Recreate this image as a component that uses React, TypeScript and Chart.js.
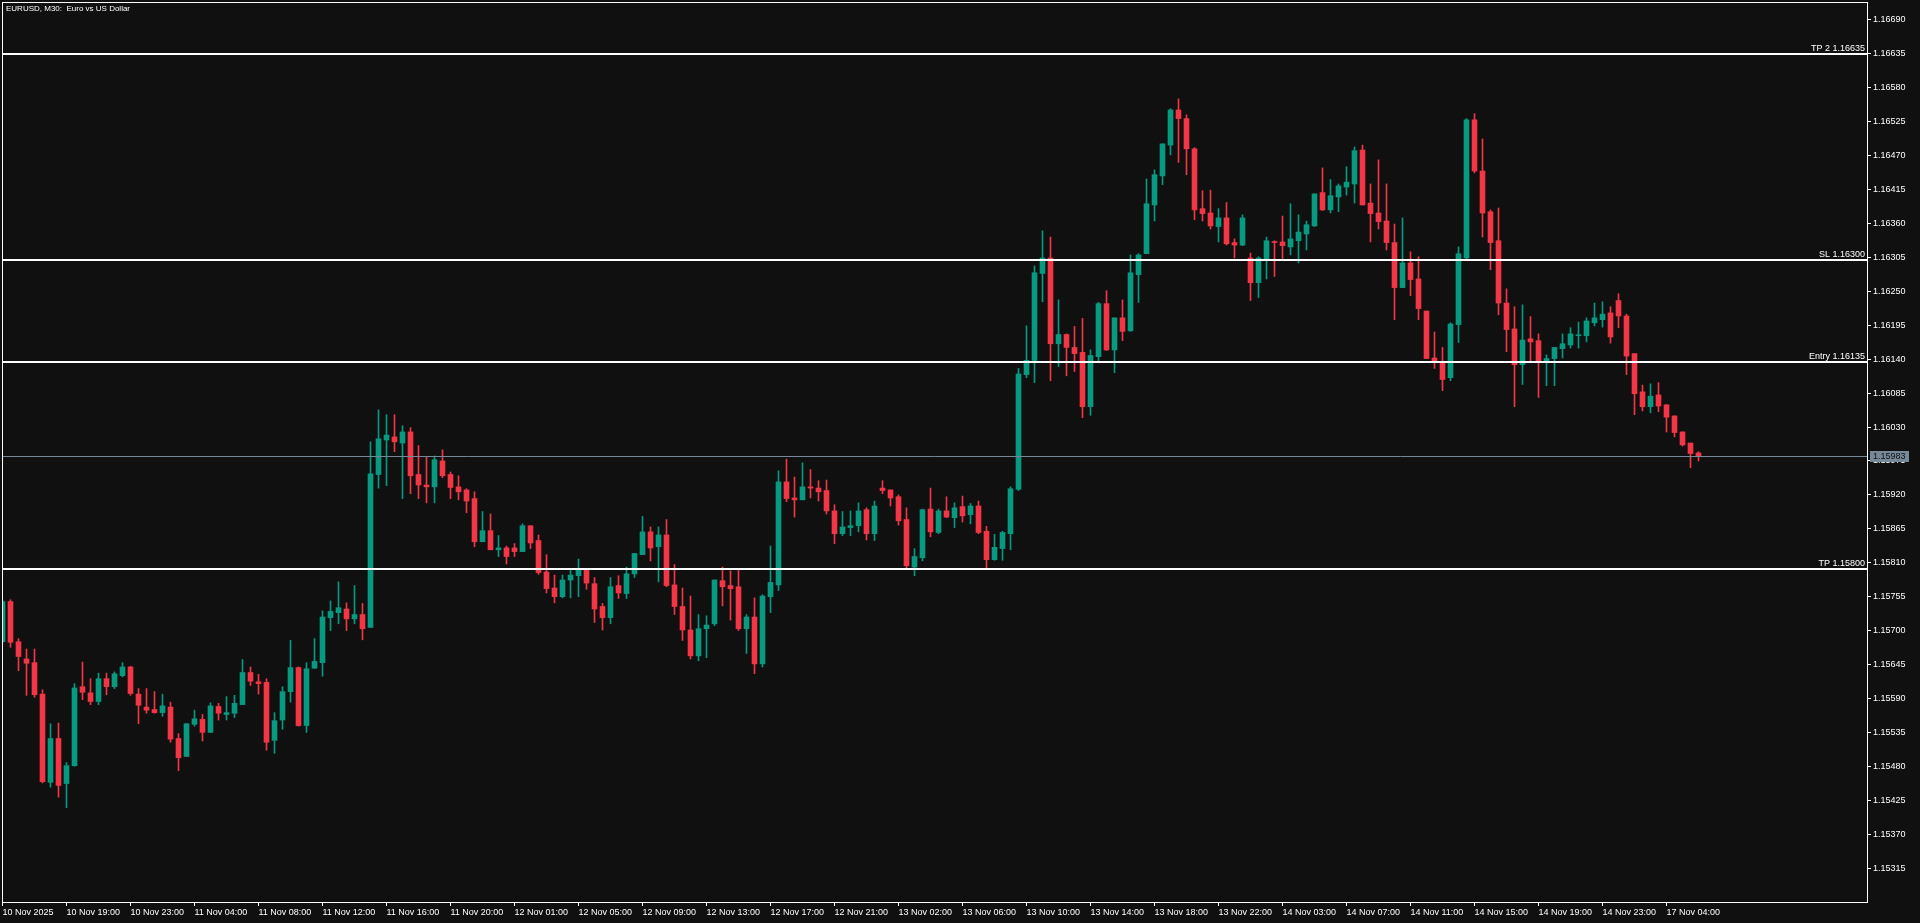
import React, { useEffect, useRef } from "react";
import { Chart, registerables } from "chart.js";

Chart.register(...registerables);

const chartTitle = "EURUSD, M30:  Euro vs US Dollar";

const opens = [
  1.15682,1.15747,1.15682,1.15654,1.15648,1.15597,1.15454,1.15525,1.15452,1.15481,
  1.15609,1.15599,1.15585,1.15622,1.15609,1.15627,1.15641,1.15597,1.15576,1.15572,
  1.15567,1.15576,1.15525,1.15496,1.15548,1.15556,1.15535,1.15577,1.15564,1.15566,
  1.15580,1.15632,1.15617,1.15616,1.15522,1.15555,1.15601,1.15640,1.15546,1.15639,
  1.15648,1.15721,1.15729,1.15735,1.15719,1.15726,1.15705,1.15953,1.16009,1.16014,
  1.16004,1.16022,1.15953,1.15936,1.15933,1.15975,1.15953,1.15933,1.15928,1.15914,
  1.15844,1.15862,1.15831,1.15834,1.15834,1.15828,1.15870,1.15846,1.15795,1.15769,
  1.15755,1.15782,1.15789,1.15799,1.15776,1.15739,1.15721,1.15773,1.15760,1.15792,
  1.15823,1.15860,1.15836,1.15855,1.15774,1.15739,1.15701,1.15659,1.15703,1.15711,
  1.15781,1.15773,1.15771,1.15703,1.15722,1.15646,1.15755,1.15774,1.15941,1.15915,
  1.15912,1.15933,1.15931,1.15927,1.15894,1.15857,1.15867,1.15870,1.15896,1.15857,
  1.15931,1.15928,1.15917,1.15880,1.15803,1.15818,1.15897,1.15859,1.15894,1.15883,
  1.15901,1.15888,1.15902,1.15861,1.15815,1.15833,1.15857,1.15929,1.16115,1.16138,
  1.16279,1.16304,1.16165,1.16180,1.16159,1.16151,1.16063,1.16144,1.16230,1.16155,
  1.16207,1.16186,1.16277,1.16311,1.16390,1.16437,1.16487,1.16544,1.16530,1.16481,
  1.16384,1.16377,1.16355,1.16369,1.16329,1.16325,1.16304,1.16264,1.16300,1.16330,
  1.16330,1.16322,1.16332,1.16343,1.16356,1.16410,1.16382,1.16403,1.16419,1.16424,
  1.16479,1.16393,1.16377,1.16364,1.16329,1.16256,1.16296,1.16270,1.16218,1.16142,
  1.16136,1.16110,1.16196,1.16304,1.16528,1.16445,1.16379,1.16332,1.16231,1.16189,
  1.16131,1.16173,1.16170,1.16136,1.16141,1.16157,1.16163,1.16178,1.16178,1.16199,
  1.16204,1.16215,1.16235,1.16210,1.16149,1.16087,1.16063,1.16082,1.16066,1.16048,
  1.16022,1.16004,1.15988,
];

const highs = [
  1.15750,1.15750,1.15687,1.15670,1.15670,1.15604,1.15549,1.15550,1.15486,1.15614,
  1.15649,1.15622,1.15631,1.15631,1.15633,1.15648,1.15642,1.15606,1.15606,1.15601,
  1.15597,1.15584,1.15533,1.15549,1.15571,1.15564,1.15583,1.15582,1.15593,1.15595,
  1.15653,1.15641,1.15629,1.15622,1.15567,1.15609,1.15684,1.15641,1.15648,1.15687,
  1.15732,1.15748,1.15779,1.15745,1.15773,1.15744,1.16006,1.16058,1.16050,1.16050,
  1.16032,1.16029,1.16000,1.15982,1.15983,1.15993,1.15957,1.15951,1.15930,1.15925,
  1.15893,1.15889,1.15854,1.15837,1.15841,1.15873,1.15870,1.15855,1.15823,1.15790,
  1.15790,1.15798,1.15816,1.15800,1.15786,1.15744,1.15786,1.15789,1.15803,1.15825,
  1.15885,1.15868,1.15868,1.15880,1.15807,1.15769,1.15756,1.15726,1.15724,1.15782,
  1.15803,1.15797,1.15799,1.15726,1.15753,1.15758,1.15837,1.15959,1.15978,1.15949,
  1.15972,1.15961,1.15943,1.15944,1.15904,1.15893,1.15894,1.15907,1.15899,1.15910,
  1.15943,1.15928,1.15920,1.15899,1.15833,1.15897,1.15931,1.15897,1.15917,1.15907,
  1.15918,1.15906,1.15910,1.15869,1.15856,1.15861,1.15933,1.16125,1.16194,1.16291,
  1.16348,1.16338,1.16236,1.16181,1.16193,1.16206,1.16155,1.16232,1.16251,1.16207,
  1.16236,1.16309,1.16311,1.16432,1.16447,1.16489,1.16546,1.16562,1.16536,1.16483,
  1.16413,1.16414,1.16384,1.16394,1.16335,1.16374,1.16312,1.16306,1.16338,1.16332,
  1.16372,1.16392,1.16374,1.16364,1.16408,1.16450,1.16431,1.16424,1.16452,1.16484,
  1.16487,1.16424,1.16463,1.16424,1.16359,1.16369,1.16314,1.16306,1.16218,1.16184,
  1.16159,1.16199,1.16322,1.16530,1.16538,1.16497,1.16382,1.16385,1.16254,1.16225,
  1.16228,1.16209,1.16181,1.16147,1.16159,1.16181,1.16191,1.16200,1.16207,1.16231,
  1.16233,1.16225,1.16246,1.16213,1.16149,1.16098,1.16100,1.16102,1.16066,1.16048,
  1.16022,1.16004,1.15990,
];

const lows = [
  1.15680,1.15673,1.15635,1.15595,1.15592,1.15453,1.15446,1.15430,1.15413,1.15480,
  1.15588,1.15580,1.15580,1.15596,1.15606,1.15625,1.15595,1.15549,1.15566,1.15566,
  1.15561,1.15519,1.15473,1.15496,1.15545,1.15521,1.15535,1.15555,1.15555,1.15559,
  1.15580,1.15611,1.15597,1.15506,1.15501,1.15540,1.15584,1.15545,1.15535,1.15639,
  1.15626,1.15700,1.15711,1.15700,1.15711,1.15685,1.15705,1.15931,1.15935,1.15990,
  1.15914,1.15922,1.15914,1.15907,1.15907,1.15948,1.15914,1.15912,1.15891,1.15836,
  1.15844,1.15831,1.15820,1.15808,1.15820,1.15828,1.15833,1.15791,1.15761,1.15745,
  1.15753,1.15753,1.15755,1.15767,1.15713,1.15701,1.15711,1.15752,1.15752,1.15786,
  1.15823,1.15813,1.15779,1.15771,1.15726,1.15684,1.15654,1.15651,1.15656,1.15708,
  1.15740,1.15717,1.15700,1.15663,1.15630,1.15641,1.15729,1.15765,1.15909,1.15884,
  1.15912,1.15915,1.15910,1.15889,1.15841,1.15854,1.15854,1.15860,1.15847,1.15846,
  1.15922,1.15902,1.15871,1.15802,1.15789,1.15813,1.15852,1.15857,1.15883,1.15867,
  1.15876,1.15873,1.15857,1.15802,1.15814,1.15814,1.15831,1.15927,1.16110,1.16102,
  1.16233,1.16105,1.16128,1.16113,1.16120,1.16045,1.16049,1.16136,1.16154,1.16118,
  1.16170,1.16185,1.16232,1.16311,1.16364,1.16423,1.16471,1.16459,1.16439,1.16366,
  1.16364,1.16351,1.16330,1.16325,1.16304,1.16324,1.16235,1.16240,1.16270,1.16274,
  1.16303,1.16309,1.16296,1.16317,1.16355,1.16381,1.16377,1.16379,1.16406,1.16393,
  1.16390,1.16330,1.16351,1.16317,1.16204,1.16256,1.16243,1.16204,1.16141,1.16125,
  1.16089,1.16105,1.16167,1.16301,1.16442,1.16338,1.16285,1.16212,1.16152,1.16063,
  1.16099,1.16136,1.16078,1.16097,1.16097,1.16142,1.16158,1.16158,1.16168,1.16194,
  1.16192,1.16166,1.16191,1.16115,1.16050,1.16056,1.16053,1.16055,1.16022,1.16014,
  1.15999,1.15964,1.15975,
];

const closes = [
  1.15747,1.15681,1.15658,1.15647,1.15596,1.15455,1.15525,1.15449,1.15481,1.15607,
  1.15600,1.15585,1.15622,1.15609,1.15630,1.15641,1.15598,1.15579,1.15571,1.15567,
  1.15578,1.15524,1.15494,1.15549,1.15557,1.15535,1.15578,1.15566,1.15567,1.15582,
  1.15632,1.15618,1.15614,1.15519,1.15554,1.15601,1.15640,1.15546,1.15638,1.15650,
  1.15722,1.15731,1.15737,1.15719,1.15726,1.15703,1.15954,1.16011,1.16017,1.16006,
  1.16022,1.15951,1.15936,1.15933,1.15977,1.15951,1.15932,1.15925,1.15910,1.15844,
  1.15862,1.15831,1.15834,1.15820,1.15828,1.15870,1.15842,1.15794,1.15768,1.15755,
  1.15782,1.15790,1.15799,1.15777,1.15735,1.15721,1.15771,1.15761,1.15792,1.15825,
  1.15860,1.15834,1.15855,1.15773,1.15739,1.15701,1.15659,1.15703,1.15709,1.15782,
  1.15771,1.15768,1.15703,1.15722,1.15646,1.15756,1.15778,1.15941,1.15914,1.15912,
  1.15933,1.15931,1.15925,1.15894,1.15857,1.15868,1.15870,1.15894,1.15857,1.15902,
  1.15927,1.15915,1.15878,1.15805,1.15820,1.15896,1.15860,1.15894,1.15884,1.15899,
  1.15886,1.15902,1.15859,1.15815,1.15835,1.15859,1.15930,1.16116,1.16138,1.16280,
  1.16304,1.16165,1.16180,1.16159,1.16149,1.16063,1.16146,1.16230,1.16155,1.16207,
  1.16185,1.16280,1.16309,1.16392,1.16439,1.16489,1.16544,1.16530,1.16481,1.16382,
  1.16376,1.16356,1.16369,1.16327,1.16325,1.16369,1.16264,1.16304,1.16332,1.16329,
  1.16324,1.16335,1.16346,1.16358,1.16408,1.16382,1.16405,1.16421,1.16427,1.16478,
  1.16390,1.16376,1.16363,1.16329,1.16256,1.16296,1.16269,1.16222,1.16141,1.16136,
  1.16107,1.16197,1.16311,1.16528,1.16445,1.16377,1.16329,1.16231,1.16188,1.16131,
  1.16171,1.16168,1.16136,1.16141,1.16159,1.16165,1.16181,1.16179,1.16202,1.16207,
  1.16213,1.16176,1.16210,1.16145,1.16084,1.16063,1.16080,1.16064,1.16046,1.16021,
  1.16001,1.15987,1.15983,
];

const xTickBars = [
  0, 8, 16, 24, 32, 40, 48, 56, 64, 72, 80, 88, 96, 104,
  112, 120, 128, 136, 144, 152, 160, 168, 176, 184, 192, 200, 208,
];
const xTickLabels = [
  "10 Nov 2025", "10 Nov 19:00", "10 Nov 23:00", "11 Nov 04:00", "11 Nov 08:00",
  "11 Nov 12:00", "11 Nov 16:00", "11 Nov 20:00", "12 Nov 01:00", "12 Nov 05:00",
  "12 Nov 09:00", "12 Nov 13:00", "12 Nov 17:00", "12 Nov 21:00", "13 Nov 02:00",
  "13 Nov 06:00", "13 Nov 10:00", "13 Nov 14:00", "13 Nov 18:00", "13 Nov 22:00",
  "14 Nov 03:00", "14 Nov 07:00", "14 Nov 11:00", "14 Nov 15:00", "14 Nov 19:00",
  "14 Nov 23:00", "17 Nov 04:00",
];

const yTickValues = [
  1.15315, 1.15370, 1.15425, 1.15480, 1.15535, 1.15590, 1.15645, 1.15700, 1.15755,
  1.15810, 1.15865, 1.15920, 1.15975, 1.16030, 1.16085, 1.16140, 1.16195, 1.16250,
  1.16305, 1.16360, 1.16415, 1.16470, 1.16525, 1.16580, 1.16635, 1.16690,
];

const levelNames = ["TP 2", "SL", "Entry", "TP"];
const levelPrices = [1.16635, 1.163, 1.16135, 1.158];

const Y_MIN = 1.1526;
const Y_MAX = 1.16719;
const X_MIN = -0.0625;
const X_MAX = 233.0625;

const BG = "#101010";
const UP = "#089981";
const DOWN = "#f23645";
const FG = "#ffffff";
const PRICE_LINE = "#778899";
const FONT = "'Liberation Sans', Arial, sans-serif";

export default function App() {
  const ref = useRef<HTMLCanvasElement | null>(null);

  useEffect(() => {
    if (!ref.current) return;
    const colors = closes.map((c, i) => (c >= opens[i] ? UP : DOWN));
    const lastPrice = closes[closes.length - 1];

    const decor = {
      id: "decor",
      beforeDraw(chart: any) {
        const ctx = chart.ctx;
        ctx.save();
        ctx.fillStyle = BG;
        ctx.fillRect(0, 0, chart.width, chart.height);
        ctx.restore();
      },
      afterDatasetsDraw(chart: any) {
        const ctx = chart.ctx;
        const { left, right } = chart.chartArea;
        const ys = chart.scales.y;
        ctx.save();
        ctx.strokeStyle = FG;
        ctx.lineWidth = 2;
        ctx.fillStyle = FG;
        ctx.font = `9px ${FONT}`;
        ctx.textAlign = "right";
        ctx.textBaseline = "alphabetic";
        levelPrices.forEach((p, i) => {
          const y = Math.round(ys.getPixelForValue(p));
          ctx.beginPath();
          ctx.moveTo(left, y);
          ctx.lineTo(right, y);
          ctx.stroke();
          ctx.fillText(`${levelNames[i]} ${p.toFixed(5)}`, right - 2, y - 3);
        });
        const py = Math.round(ys.getPixelForValue(lastPrice)) + 0.5;
        ctx.strokeStyle = PRICE_LINE;
        ctx.lineWidth = 1;
        ctx.beginPath();
        ctx.moveTo(left, py);
        ctx.lineTo(right, py);
        ctx.stroke();
        ctx.restore();
      },
      afterDraw(chart: any) {
        const ctx = chart.ctx;
        const { left, right, top, bottom } = chart.chartArea;
        const ys = chart.scales.y;
        ctx.save();
        ctx.strokeStyle = FG;
        ctx.lineWidth = 1;
        ctx.strokeRect(left + 0.5, top + 0.5, right - left, bottom - top);
        const py = Math.round(ys.getPixelForValue(lastPrice));
        ctx.fillStyle = PRICE_LINE;
        ctx.fillRect(right + 3, py - 5, 39, 11);
        ctx.fillStyle = "#0f0f0f";
        ctx.font = `9px ${FONT}`;
        ctx.textAlign = "left";
        ctx.textBaseline = "middle";
        ctx.fillText(lastPrice.toFixed(5), right + 6, py + 0.5);
        ctx.fillStyle = FG;
        ctx.font = `8px ${FONT}`;
        ctx.fillText(chartTitle, left + 4, top + 7);
        ctx.restore();
      },
    };

    const chart = new Chart(ref.current, {
      type: "bar",
      data: {
        datasets: [
          {
            label: "body",
            data: opens.map((o, i) => ({ x: i, y: [o, closes[i]] })) as any,
            backgroundColor: colors,
            borderWidth: 0,
            barThickness: 5,
            grouped: false,
            minBarLength: 1,
            clip: 0,
          } as any,
          {
            label: "wick",
            data: lows.map((l, i) => ({ x: i, y: [l, highs[i]] })) as any,
            backgroundColor: colors,
            borderWidth: 0,
            barThickness: 1,
            grouped: false,
            clip: 0,
          } as any,
        ],
      },
      options: {
        responsive: false,
        animation: false,
        events: [],
        layout: { padding: { left: 2, top: 2, right: 0, bottom: 0 } },
        plugins: {
          legend: { display: false },
          tooltip: { enabled: false },
          title: { display: false },
        },
        scales: {
          x: {
            type: "linear",
            min: X_MIN,
            max: X_MAX,
            offset: false,
            grid: {
              display: true,
              drawOnChartArea: false,
              drawTicks: true,
              tickLength: 4,
              color: FG,
              tickColor: FG,
              offset: false,
            },
            border: { display: true, color: FG, width: 1 },
            ticks: {
              color: FG,
              font: { family: FONT, size: 9 },
              padding: 1,
              align: "start",
              autoSkip: false,
              maxRotation: 0,
              minRotation: 0,
              callback: (_v: any, i: number) => xTickLabels[i],
            },
            afterBuildTicks: (s: any) => {
              s.ticks = xTickBars.map((v) => ({ value: v }));
            },
            afterFit: (s: any) => {
              s.height = 21;
              s.paddingLeft = 0;
              s.paddingRight = 0;
            },
          } as any,
          y: {
            type: "linear",
            position: "right",
            min: Y_MIN,
            max: Y_MAX,
            grid: {
              display: true,
              drawOnChartArea: false,
              drawTicks: true,
              tickLength: 4,
              color: FG,
              tickColor: FG,
            },
            border: { display: true, color: FG, width: 1 },
            ticks: {
              color: FG,
              font: { family: FONT, size: 9 },
              padding: 2,
              autoSkip: false,
              callback: (v: any) => Number(v).toFixed(5),
            },
            afterBuildTicks: (s: any) => {
              s.ticks = yTickValues.map((v) => ({ value: v }));
            },
            afterFit: (s: any) => {
              s.width = 53;
              s.paddingTop = 0;
              s.paddingBottom = 0;
            },
          } as any,
        },
      },
      plugins: [decor],
    } as any);

    return () => chart.destroy();
  }, []);

  return (
    <div
      style={{
        position: "fixed",
        left: 0,
        top: 0,
        width: 1920,
        height: 923,
        background: BG,
        overflow: "hidden",
      }}
    >
      <canvas ref={ref} width={1920} height={923} style={{ display: "block", width: 1920, height: 923 }} />
    </div>
  );
}
